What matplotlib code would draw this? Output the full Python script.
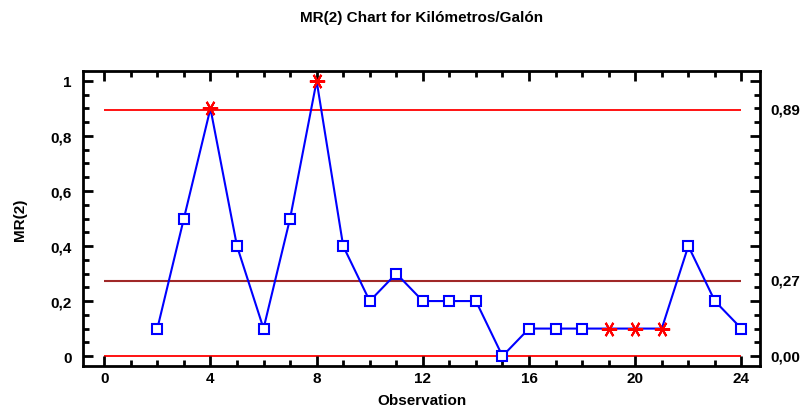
import numpy as np
import matplotlib
matplotlib.use("Agg")
import matplotlib.pyplot as plt
from matplotlib.ticker import MultipleLocator, FuncFormatter

plt.rcParams['font.family'] = ['Liberation Sans', 'DejaVu Sans']
plt.rcParams['font.weight'] = 'bold'

# ===================== data =====================
obs = [2, 3, 4, 5, 6, 7, 8, 9, 10, 11, 12, 13, 14, 15, 16, 17, 18, 19, 20, 21, 22, 23, 24]
mr = [0.1, 0.5, 0.9, 0.4, 0.1, 0.5, 1.0, 0.4, 0.2, 0.3, 0.2, 0.2, 0.2, 0.0,
      0.1, 0.1, 0.1, 0.1, 0.1, 0.1, 0.4, 0.2, 0.1]
flagged = [4, 8, 19, 20, 21]  # out of control / run rule points
ucl, cl, lcl = 0.896, 0.274, 0.0
limit_labels = ['0,89', '0,27', '0,00']

# ===================== plot =====================
fig = plt.figure(figsize=(8.02, 4.14), dpi=100)
ax = fig.add_axes([83 / 802, 47 / 414, 677 / 802, 295 / 414])

ax.hlines([ucl, lcl], 0, 24, colors='#ff0000', lw=1.3, zorder=1)
ax.hlines(cl, 0, 24, colors='#a02828', lw=1.5, zorder=1)

ax.plot(obs, mr, color='#0000ff', lw=1.5, zorder=2)
normal = [(o, v) for o, v in zip(obs, mr) if o not in flagged]
ax.plot([p[0] for p in normal], [p[1] for p in normal], ls='none', marker='s',
        ms=6.5, mfc='white', mec='#0000ff', mew=1.5, zorder=3)
bad = [(o, v) for o, v in zip(obs, mr) if o in flagged]
ax.plot([p[0] for p in bad], [p[1] for p in bad], ls='none', marker=(6, 2, 90),
        ms=11, mec='#ff0000', mew=1.5, zorder=4)

ax.set_xlim(-0.8, 24.7)
ax.set_ylim(-0.036, 1.036)
ax.xaxis.set_major_locator(MultipleLocator(4))
ax.xaxis.set_minor_locator(MultipleLocator(1))
ax.yaxis.set_major_locator(MultipleLocator(0.2))
ax.yaxis.set_minor_locator(MultipleLocator(0.05))
ax.yaxis.set_major_formatter(FuncFormatter(lambda v, p: ('%g' % round(v, 2)).replace('.', ',')))
ax.tick_params(which='both', direction='in', top=True, right=True, width=2, labelsize=11)
ax.tick_params(which='major', length=7)
ax.tick_params(which='minor', length=4)
ax.tick_params(axis='y', pad=8)
for s in ax.spines.values():
    s.set_linewidth(2)

for val, lab in zip([ucl, cl, lcl], limit_labels):
    ax.text(1.015, val, lab, transform=ax.get_yaxis_transform(), va='center',
            ha='left', fontsize=11, fontweight='bold')

ax.set_xlabel('Observation', fontsize=11, fontweight='bold', labelpad=6)
ax.set_ylabel('MR(2)', fontsize=11, fontweight='bold', labelpad=17)
ax.set_title('MR(2) Chart for Kilómetros/Galón', fontsize=11, fontweight='bold', pad=36)

fig.savefig('out.png', dpi=100)
